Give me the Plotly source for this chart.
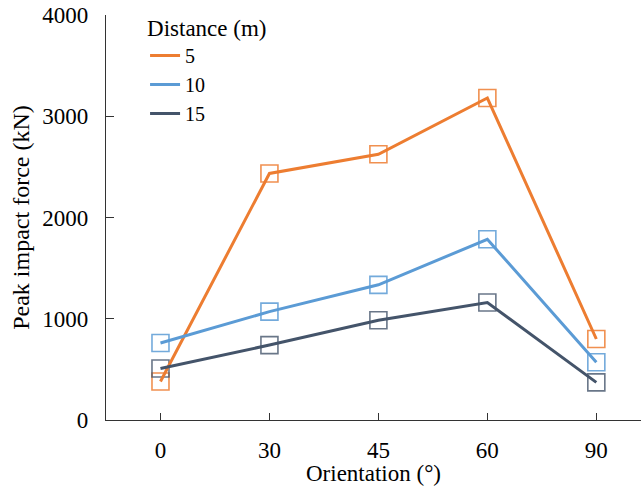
import plotly.graph_objects as go

orientation = ["0", "30", "45", "60", "90"]
series_names = ["5", "10", "15"]
force_5 = [380, 2435, 2625, 3180, 800]
force_10 = [760, 1070, 1335, 1785, 570]
force_15 = [508, 740, 985, 1160, 372]
y_ticks = [0, 1000, 2000, 3000, 4000]

colors = ["#ED7D31", "#5B9BD5", "#44546A"]
marker_colors = ["rgba(237,125,49,0.85)", "rgba(91,155,213,0.85)", "rgba(68,84,106,0.8)"]
values = [force_5, force_10, force_15]

FONT = "Liberation Serif"
fig = go.Figure()

# markers (drawn first, under lines)
for name, vals, mc in zip(series_names, values, marker_colors):
    fig.add_trace(go.Scatter(
        x=orientation, y=vals, mode="markers", showlegend=False,
        marker=dict(symbol="square-open", size=17, color=mc, line=dict(width=1.6, color=mc)),
        hoverinfo="skip"))

for name, vals, c in zip(series_names, values, colors):
    fig.add_trace(go.Scatter(
        x=orientation, y=vals, mode="lines", name=name,
        line=dict(color=c, width=3)))

axis_color = "#333333"
fig.update_layout(
    width=641, height=486,
    margin=dict(l=106, r=0, t=15, b=66),
    paper_bgcolor="white", plot_bgcolor="white",
    font=dict(family=FONT, size=22, color="black"),
    showlegend=True,
    legend=dict(
        x=0.073, y=1.022, xanchor="left", yanchor="top",
        bgcolor="rgba(0,0,0,0)",
        title=dict(text="Distance (m)", font=dict(family=FONT, size=23, color="black")),
        font=dict(family=FONT, size=20, color="black"),
        tracegroupgap=0,
    ),
    xaxis=dict(
        type="category", range=[-0.5, 4.41],
        showline=True, linecolor=axis_color, linewidth=1.3,
        ticks="inside", ticklen=7, tickwidth=1.3, tickcolor=axis_color,
        showgrid=False, zeroline=False,
        tickfont=dict(family=FONT, size=23, color="black"),
        ticklabelstandoff=9,
        title=dict(text="Orientation (°)", font=dict(family=FONT, size=23, color="black"), standoff=0),
    ),
    yaxis=dict(
        range=[0, 4000], tickvals=y_ticks, ticktext=[str(v) for v in y_ticks],
        showline=True, linecolor=axis_color, linewidth=1.3,
        ticks="inside", ticklen=8, tickwidth=1.3, tickcolor=axis_color,
        showgrid=False, zeroline=False,
        tickfont=dict(family=FONT, size=23, color="black"),
        ticklabelstandoff=12,
        title=dict(text="Peak impact force (kN)", font=dict(family=FONT, size=24, color="black"), standoff=5),
    ),
)

fig.write_html(
    "out.html",
    config={"displayModeBar": False},
    post_script="document.body.style.margin='0';document.body.style.overflow='hidden';",
)
